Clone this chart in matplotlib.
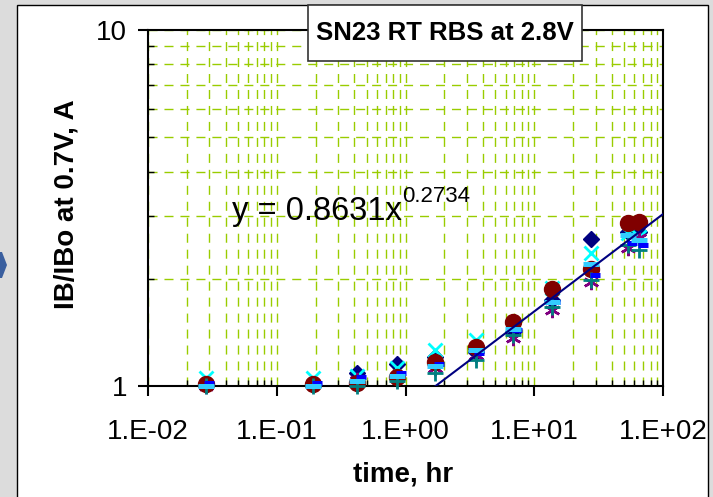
import numpy as np
import matplotlib
matplotlib.use('Agg')
import matplotlib.pyplot as plt
from matplotlib.patches import Rectangle, Polygon
from matplotlib.ticker import NullFormatter

plt.rcParams['font.family'] = ['Liberation Sans', 'DejaVu Sans']

# measurement times, hr (blue series logged slightly later)
times = [0.028, 0.19, 0.42, 0.86, 1.7, 3.5, 6.8, 13.7, 27.5, 53, 65]
times_blue = [0.030, 0.205, 0.45, 0.93, 1.83, 3.7, 7.3, 14.6, 29.5, 57, 70]

# IB/IBo at 0.7V per device
s_diamond = [1.01, 1.01, 1.09, 1.15, 1.21, 1.25, 1.42, 1.74, 2.59, 2.71, 2.71]
s_xcyan = [1.05, 1.05, 1.07, 1.12, 1.26, 1.35, 1.48, 1.88, 2.36, 2.69, 2.62]
s_star = [1.00, 1.01, 1.04, 1.06, 1.12, 1.22, 1.36, 1.63, 1.96, 2.44, 2.60]
s_circle = [1.01, 1.01, 1.02, 1.06, 1.17, 1.29, 1.51, 1.87, 2.13, 2.87, 2.89]
s_plus = [1.00, 1.00, 1.00, 1.03, 1.09, 1.18, 1.39, 1.67, 1.98, 2.49, 2.41]
s_dash = [1.02, 1.02, 1.06, 1.09, 1.15, 1.24, 1.44, 1.72, 2.05, 2.52, 2.49]
s_bar = [1.00, 1.00, 1.03, 1.07, 1.14, 1.26, 1.45, 1.72, 2.20, 2.66, 2.57]

# power-law trendline y = a * x^b
fit_a = 0.8631
fit_b = 0.2734

xticks = [1e-2, 1e-1, 1e0, 1e1, 1e2]
xtick_labels = ['1.E-02', '1.E-01', '1.E+00', '1.E+01', '1.E+02']
yticks = [1, 10]
ytick_labels = ['1', '10']

W, H = 713, 497
fig = plt.figure(figsize=(W / 100, H / 100), dpi=100, facecolor='#dcdcdc')

# chart frame and the little chevron at the left edge
fig.patches.append(Rectangle((17 / W, -0.01), (708 - 17) / W, (497 - 5) / H + 0.01,
                             transform=fig.transFigure, facecolor='white',
                             edgecolor='black', lw=1, zorder=-2))
chev = [(0, 252), (2, 252), (7, 265), (2, 278), (0, 278)]
fig.patches.append(Polygon([(x / W, 1 - y / H) for x, y in chev], closed=True,
                           transform=fig.transFigure, facecolor='#3a5f9f',
                           edgecolor='none', zorder=-2))

ax = fig.add_axes([148 / W, 1 - 386 / H, 515 / W, 356 / H])
ax.set_facecolor('white')
ax.set_xscale('log')
ax.set_yscale('log')
ax.set_xlim(1e-2, 1e2)
ax.set_ylim(1, 10)

ax.set_axisbelow(True)
ax.grid(True, which='both', color='#99cc00', lw=1, linestyle=(0, (6.5, 5)))

ax.plot(times, s_diamond, 'D', color='#000080', ms=8, ls='none', clip_on=False, zorder=3)
ax.plot(times, s_xcyan, 'x', color='#00ffff', ms=10, mew=2, ls='none', clip_on=False, zorder=3)
ax.plot(times, s_star, marker=(6, 2, 0), color='#800080', ms=11, mew=1.8, ls='none',
        clip_on=False, zorder=3)
ax.plot(times, s_circle, 'o', color='#800000', ms=11.5, ls='none', clip_on=False, zorder=3)
ax.plot(times, s_plus, '+', color='#008080', ms=11, mew=2, ls='none', clip_on=False, zorder=3)
ax.plot(times_blue, s_dash, '_', color='#0000ff', ms=6.5, mew=3.6, ls='none',
        clip_on=False, zorder=3)
ax.plot(times, s_bar, '_', color='#33ccff', ms=11, mew=3.6, ls='none', clip_on=False, zorder=3)

xfit = np.logspace(-2, 2, 200)
ax.plot(xfit, fit_a * xfit ** fit_b, color='#000080', lw=1.5, zorder=4)

ax.set_xticks(xticks, labels=xtick_labels)
ax.set_yticks(yticks, labels=ytick_labels)
ax.xaxis.set_minor_formatter(NullFormatter())
ax.yaxis.set_minor_formatter(NullFormatter())
ax.tick_params(axis='x', which='major', direction='out', length=7, width=1.5,
               labelsize=20, pad=17)
ax.tick_params(axis='y', which='major', direction='out', length=7, width=1.5,
               labelsize=20, pad=8)
ax.tick_params(which='minor', direction='in', length=4, width=1)

for sp in ax.spines.values():
    sp.set_linewidth(1.5)
    sp.set_color('black')

ax.set_xlabel('time, hr', fontsize=20, fontweight='bold', va='baseline')
ax.xaxis.set_label_coords((403 - 148) / 515, (386 - 481) / 356)
ax.set_ylabel('IB/IBo at 0.7V, A', fontsize=20, fontweight='bold', va='baseline')
ax.yaxis.set_label_coords((73 - 148) / 515, (386 - 204) / 356)

# trendline equation
fig.text(232 / W, 1 - 220 / H, 'y = 0.8631x', fontsize=23.5, va='baseline')
fig.text(402 / W, 1 - 202 / H, '0.2734', fontsize=16, va='baseline')

# title box
fig.patches.append(Rectangle((308 / W, 1 - 61 / H), 274 / W, 56 / H,
                             transform=fig.transFigure, facecolor='white',
                             edgecolor='#333333', lw=1.2, zorder=5))
fig.text(445 / W, 1 - 40 / H, 'SN23 RT RBS at 2.8V', fontsize=18.5, fontweight='bold',
         ha='center', va='baseline', zorder=6)

fig.savefig('out.png', dpi=100, facecolor=fig.get_facecolor())
